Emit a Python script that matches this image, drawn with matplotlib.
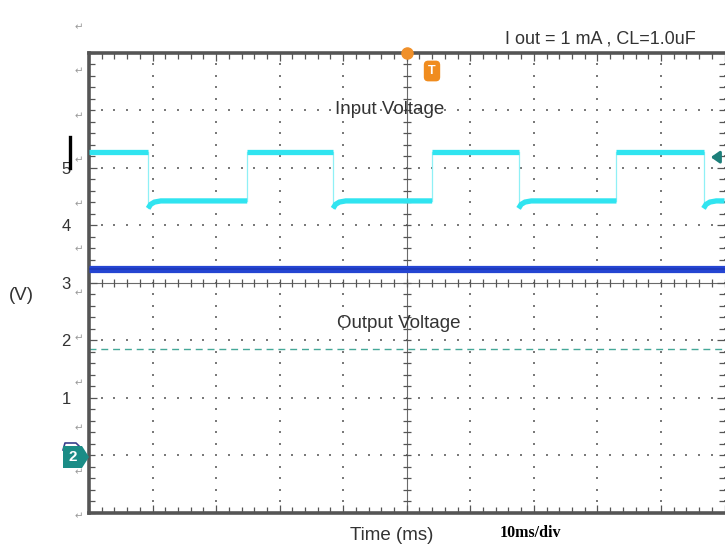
import matplotlib
matplotlib.use('Agg')
import matplotlib.pyplot as plt
import numpy as np
from matplotlib.patches import Polygon
from matplotlib.lines import Line2D
from matplotlib.ticker import MultipleLocator

# ---------------- data ----------------
edge_times_ms = [9.3, 24.9, 38.4, 54.0, 67.6, 83.0, 96.7]   # input transitions, first one is a falling edge
input_high_v = 5.27
input_low_v = 4.42
recovery_ms = [0.0, 0.4, 1.0, 2.0]            # settling after each falling edge
recovery_v = [4.29, 4.36, 4.40, 4.42]
output_v = 3.24
ch2_ref_v = 1.85
time_range_ms = [0, 100]
y_range = [-1, 7]
y_tick_values = [1, 2, 3, 4, 5]
y_tick_labels = ['1', '2', '3', '4', '5']
para_mark_px_y = [27, 71, 116, 160, 204, 249, 293, 338, 383, 428, 472, 516]

plt.rcParams['font.family'] = ['Liberation Sans', 'DejaVu Sans']

W, H = 725, 547
fig = plt.figure(figsize=(W / 100, H / 100), dpi=100)
ax = fig.add_axes([89 / W, (H - 512.7) / H, (724.5 - 89) / W, (512.7 - 52.5) / H])
ax.set_xlim(*time_range_ms)
ax.set_ylim(*y_range)

def fx(px):
    return px / W

def fy(py):
    return 1 - py / H

# ---------------- grid dots ----------------
minor_x = np.arange(time_range_ms[0], time_range_ms[1] + 0.01, 2)
minor_y = np.arange(y_range[0], y_range[1] + 0.001, 0.2)
dot_c = '#7a7a7a'
for gx in range(10, 101, 10):
    if gx == 50:
        continue
    ax.plot([gx] * len(minor_y), minor_y, ls='none', marker='s', ms=1.5,
            color=dot_c, mew=0, clip_on=False, zorder=1)
for gy in [0, 1, 2, 4, 5, 6]:
    ax.plot(minor_x, [gy] * len(minor_x), ls='none', marker='s', ms=1.5,
            color=dot_c, mew=0, zorder=1)

# center crosshair with ticks
ax.axhline(3, color='#6a6a6a', lw=0.8, zorder=1)
ax.axvline(50, color='#6a6a6a', lw=0.8, zorder=1)
ax.plot(minor_x, [3] * len(minor_x), ls='none', marker='|', ms=6, mew=0.9,
        color='#555555', zorder=1)
ax.plot([50] * len(minor_y), minor_y, ls='none', marker='_', ms=6, mew=0.9,
        color='#555555', zorder=1)

# ---------------- traces ----------------
cyan = '#30e4f0'
bounds = [time_range_ms[0]] + edge_times_ms + [time_range_ms[1]]
for i in range(len(bounds) - 1):
    t0, t1 = bounds[i], bounds[i + 1]
    if i % 2 == 0:
        ax.plot([t0, t1], [input_high_v, input_high_v], color=cyan, lw=3.8,
                solid_capstyle='butt', zorder=3)
    else:
        ts = [t0 + r for r in recovery_ms if t0 + r < t1] + [t1]
        vs = recovery_v[:len(ts) - 1] + [input_low_v]
        ax.plot(ts, vs, color=cyan, lw=3.8, solid_capstyle='butt',
                solid_joinstyle='miter', zorder=3)
for k, te in enumerate(edge_times_ms):
    lo = recovery_v[0] if k % 2 == 0 else input_low_v
    ax.plot([te, te], [lo, input_high_v], color='#8ff0f6', lw=0.9, zorder=2)

ax.plot(time_range_ms, [output_v, output_v], color='#2545d2', lw=5.2,
        solid_capstyle='butt', zorder=3)
ax.plot(time_range_ms, [output_v, output_v], color='#1a33b0', lw=1.2,
        zorder=3, alpha=0.7)

ax.plot(time_range_ms, [ch2_ref_v, ch2_ref_v], color='#45a898', lw=1.0,
        dashes=(5, 3.5), zorder=2)

# ---------------- frame ----------------
frame_c = '#555555'
for s in ['left', 'top', 'bottom']:
    ax.spines[s].set_linewidth(2.6)
    ax.spines[s].set_color(frame_c)
ax.spines['right'].set_visible(False)
ax.xaxis.set_major_locator(MultipleLocator(10))
ax.xaxis.set_minor_locator(MultipleLocator(2))
ax.set_yticks(y_tick_values, y_tick_labels)
ax.yaxis.set_minor_locator(MultipleLocator(0.2))
ax.tick_params(which='both', direction='in', top=True, bottom=True,
               left=True, right=True, color='#555555', width=0.9)
ax.tick_params(which='major', length=6)
ax.tick_params(which='minor', length=4)
ax.tick_params(axis='x', labelbottom=False)
ax.tick_params(axis='y', labelsize=12, pad=13, labelcolor='#333333')

# ---------------- markers ----------------
ax.plot(50, 7, marker='o', ms=8, color='#f0902a', clip_on=False, zorder=10)
fig.text(fx(432), fy(71), 'T', color='white', weight='bold', fontsize=9,
         ha='center', va='center',
         bbox=dict(boxstyle='round,pad=0.35', fc='#f08c1e', ec='none'))

ax.annotate('', xy=(97.4, 5.18), xytext=(99.3, 5.18),
            arrowprops=dict(arrowstyle='-|>,head_length=0.5,head_width=0.35',
                            color='#1d7f7a', lw=2.2), zorder=6)

teal = Polygon([(fx(63), fy(446)), (fx(82), fy(446)), (fx(89), fy(457)),
                (fx(82), fy(468)), (fx(63), fy(468))], closed=True,
               transform=fig.transFigure, fc='#1b8c86', ec='none', zorder=5)
fig.patches.append(teal)
fig.text(fx(73), fy(457), '2', color='white', weight='bold', fontsize=11,
         ha='center', va='center', zorder=7)
fig.lines.append(Line2D([fx(63), fx(65), fx(76), fx(80)],
                        [fy(450), fy(443), fy(443), fy(447)],
                        transform=fig.transFigure, color='#3a3f8c', lw=1.2))

fig.lines.append(Line2D([fx(70), fx(70)], [fy(137), fy(168)],
                        transform=fig.transFigure, color='black', lw=2.4))

for py in para_mark_px_y:
    fig.text(fx(79), fy(py), '\u21b5', color='#9a9a9a', fontsize=7.5,
             family='DejaVu Sans', ha='center', va='center')

# ---------------- texts ----------------
txt_c = '#333333'
fig.text(fx(600), fy(39.5), 'I out = 1 mA , CL=1.0uF', fontsize=13,
         color=txt_c, ha='center', va='center')
fig.text(fx(390), fy(110), 'Input Voltage', fontsize=13.5, color=txt_c,
         ha='center', va='center')
fig.text(fx(399), fy(323), 'Output Voltage', fontsize=13.5, color=txt_c,
         ha='center', va='center')
fig.text(fx(21), fy(296), '(V)', fontsize=13.5, color=txt_c,
         ha='center', va='center')
fig.text(fx(392), fy(535), 'Time (ms)', fontsize=13.5, color=txt_c,
         ha='center', va='center')
fig.text(fx(530), fy(533), '10ms/div', fontsize=11.5, color='black',
         family='Liberation Serif', weight='bold', ha='center', va='center')

fig.savefig('out.png', dpi=100)
